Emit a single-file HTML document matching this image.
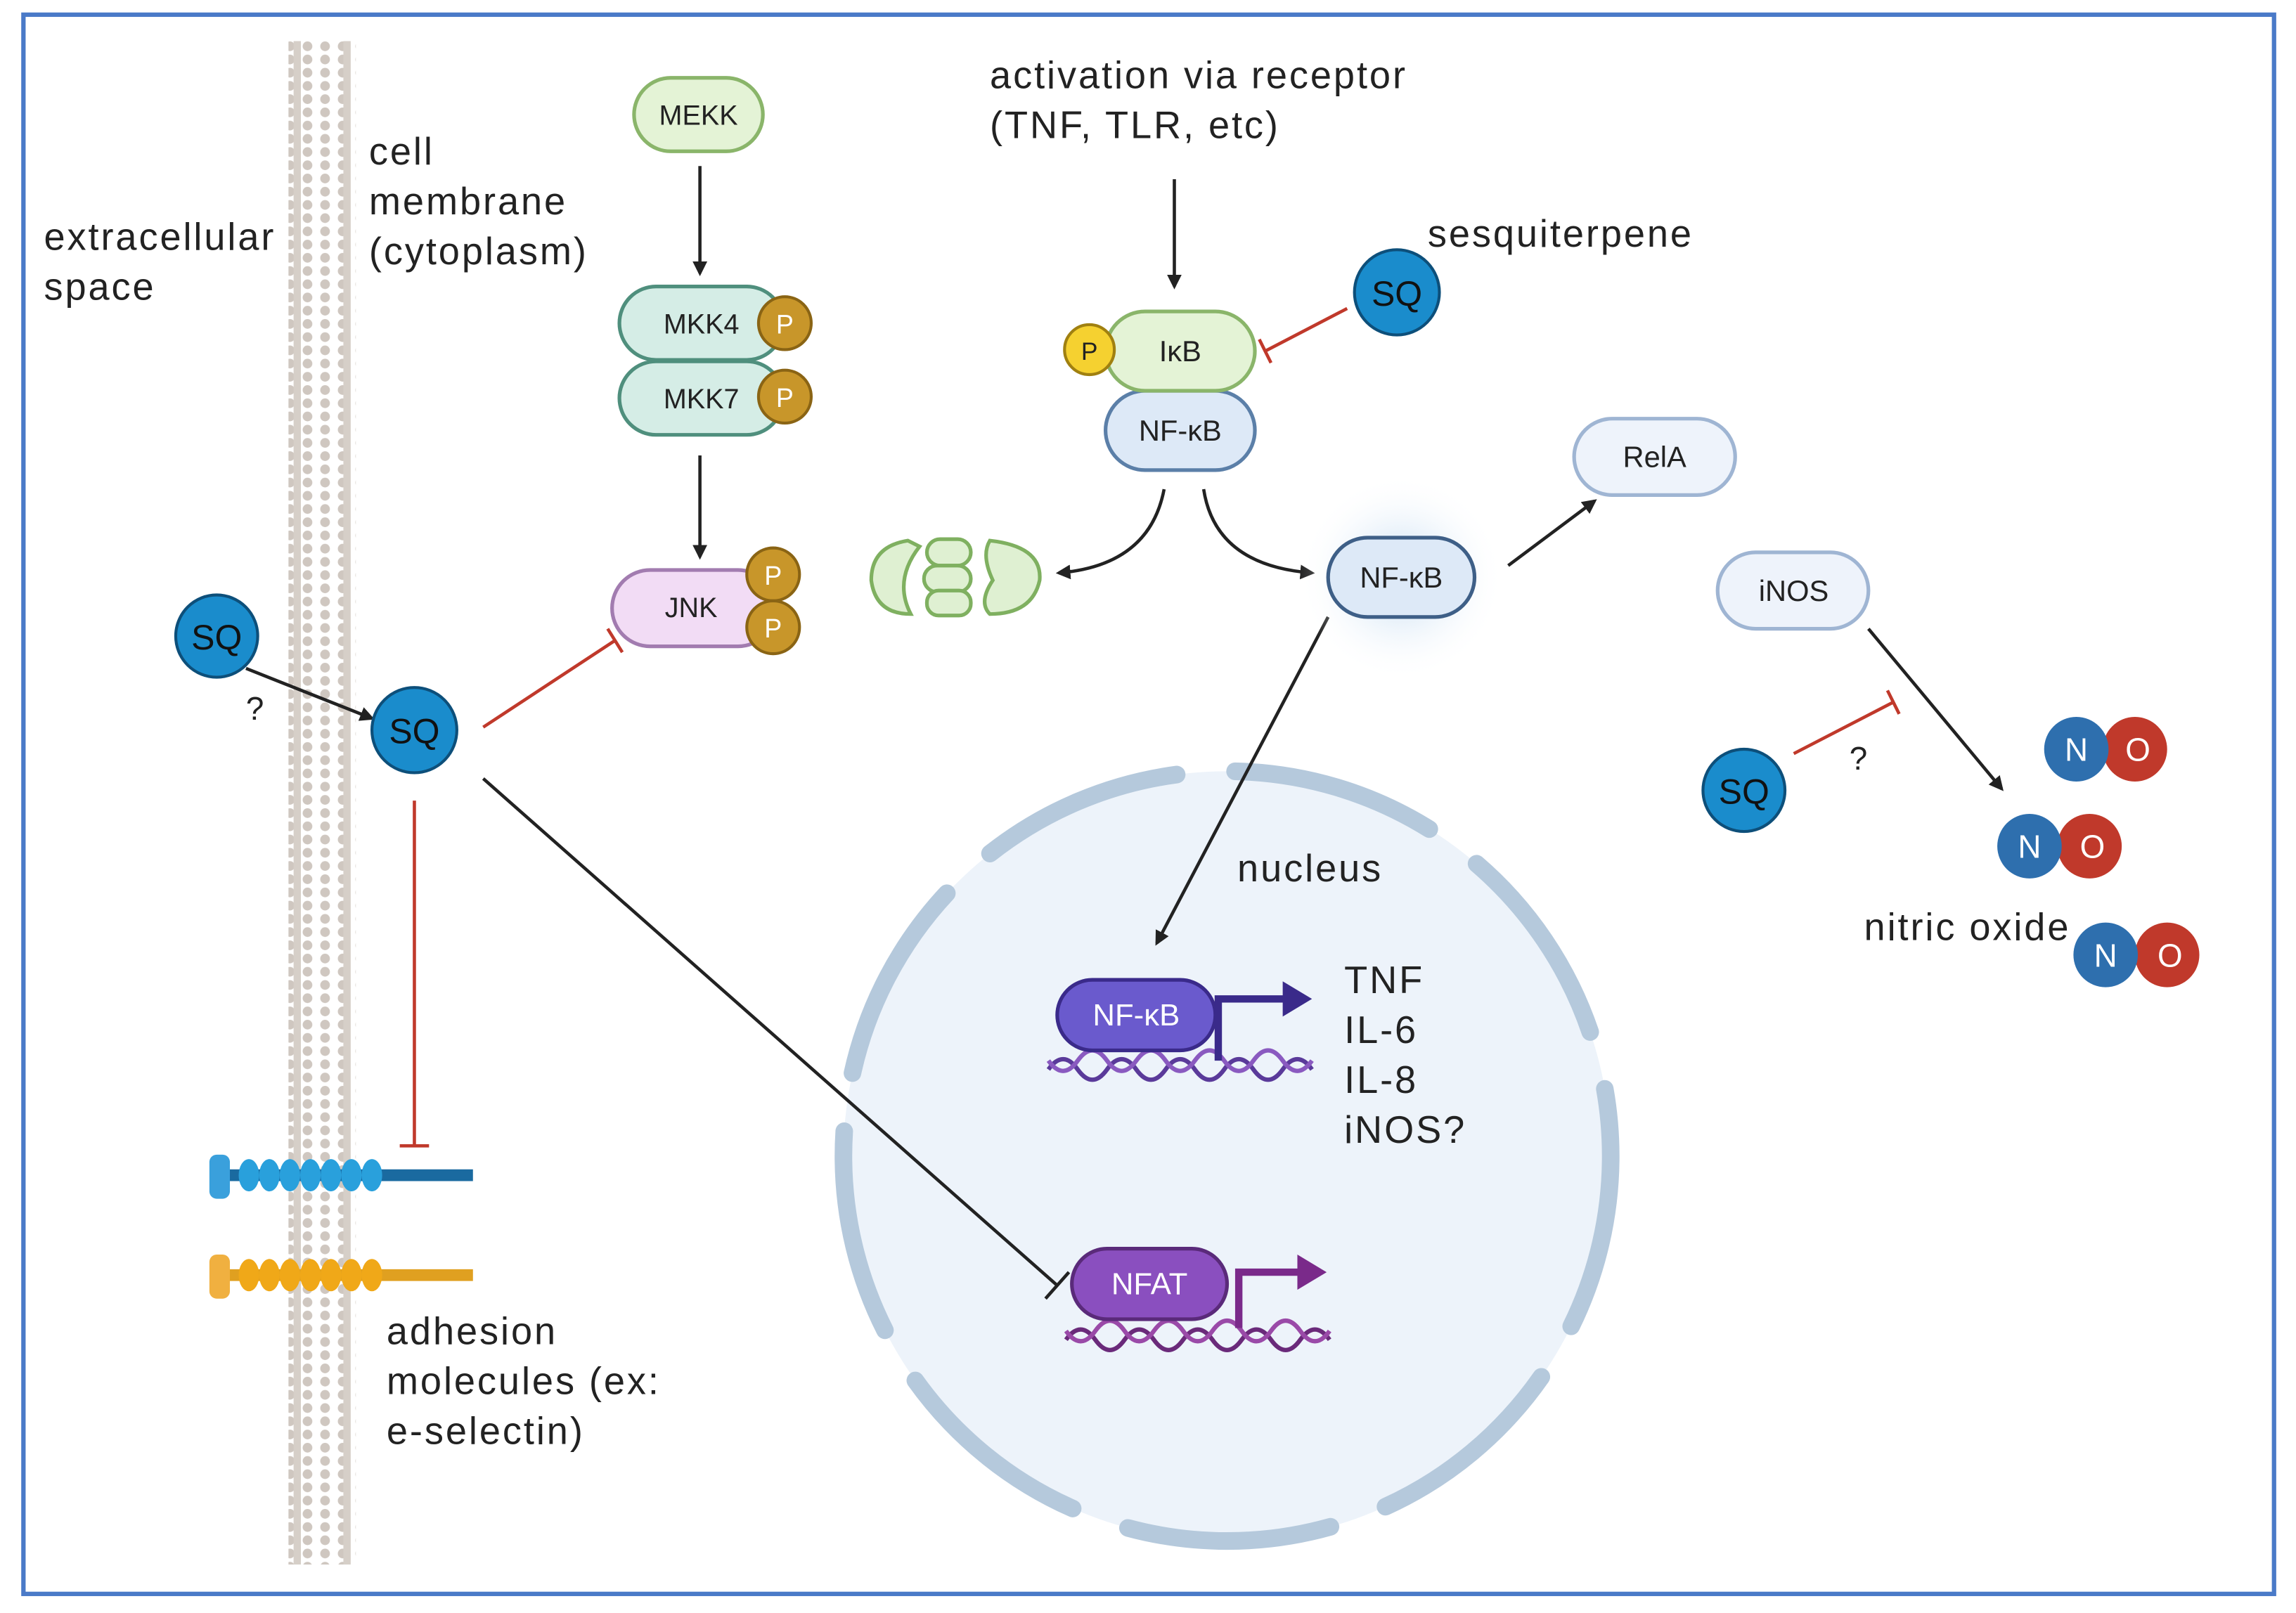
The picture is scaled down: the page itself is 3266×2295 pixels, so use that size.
<!DOCTYPE html>
<html><head><meta charset="utf-8"><style>
html,body{margin:0;padding:0;background:#fff;}
svg{display:block;}
text{font-family:"Liberation Sans",sans-serif;}
</style></head><body>
<svg width="3266" height="2295" viewBox="0 0 1568 1098" preserveAspectRatio="none" xmlns="http://www.w3.org/2000/svg">
<defs>
<marker id="ah" markerWidth="10" markerHeight="10" refX="8" refY="5" orient="auto" markerUnits="userSpaceOnUse"><path d="M0,0 L10,5 L0,10 z" fill="#222"/></marker>
<radialGradient id="glow"><stop offset="0" stop-color="#bcd7f0"/><stop offset="1" stop-color="#fff" stop-opacity="0"/></radialGradient>
<pattern id="mem" width="12" height="9" patternUnits="userSpaceOnUse"><circle cx="6" cy="4.5" r="3.3" fill="#cfc7c0"/></pattern>
</defs>
<rect x="16" y="10" width="1537" height="1075" fill="#fff" stroke="#4a7ac8" stroke-width="3"/>
<!-- membrane -->
<rect x="197" y="28" width="46" height="1037" fill="url(#mem)"/>
<line x1="203" y1="28" x2="203" y2="1065" stroke="#d6cfc8" stroke-width="5"/>
<line x1="237" y1="28" x2="237" y2="1065" stroke="#d6cfc8" stroke-width="5"/>
<!-- nucleus -->
<circle cx="838" cy="787" r="262" fill="#edf3fa"/>
<g fill="none" stroke="#b5c9dc" stroke-width="12" stroke-linecap="round">
<circle cx="838" cy="787" r="262" stroke-dasharray="140 40" stroke-dashoffset="20"/>
</g>
<g font-size="26" fill="#222" letter-spacing="1.4">
<text x="30" y="170">extracellular</text><text x="30" y="204">space</text>
<text x="252" y="112">cell</text><text x="252" y="146">membrane</text><text x="252" y="180">(cytoplasm)</text>
<text x="264" y="915">adhesion</text><text x="264" y="949">molecules (ex:</text><text x="264" y="983">e-selectin)</text>
<text x="676" y="60">activation via receptor</text><text x="676" y="94">(TNF, TLR, etc)</text>
<text x="975" y="168">sesquiterpene</text>
<text x="845" y="600">nucleus</text>
<text x="1273" y="640">nitric oxide</text>
<text x="918" y="676">TNF</text><text x="918" y="710">IL-6</text><text x="918" y="744">IL-8</text><text x="918" y="778">iNOS?</text>
</g>
<!-- MEKK pathway -->
<g font-size="19" fill="#222" text-anchor="middle">
<rect x="433" y="53" width="88" height="50" rx="25" fill="#e4f3d6" stroke="#8ab56a" stroke-width="2.5"/><text x="477" y="85">MEKK</text>
<rect x="423" y="246" width="112" height="50" rx="25" fill="#d5ede6" stroke="#4f8f7d" stroke-width="2.5"/><text x="479" y="278">MKK7</text>
<rect x="423" y="195" width="112" height="50" rx="25" fill="#d5ede6" stroke="#4f8f7d" stroke-width="2.5"/><text x="479" y="227">MKK4</text>
<rect x="418" y="388" width="112" height="52" rx="26" fill="#f2dcf5" stroke="#a27cb0" stroke-width="2.5"/><text x="472" y="420">JNK</text>
</g>
<g font-size="18" fill="#fff" text-anchor="middle">
<circle cx="536" cy="220" r="18" fill="#c8962a" stroke="#8a6414" stroke-width="2"/><text x="536" y="227">P</text>
<circle cx="536" cy="270" r="18" fill="#c8962a" stroke="#8a6414" stroke-width="2"/><text x="536" y="277">P</text>
<circle cx="528" cy="391" r="18" fill="#c8962a" stroke="#8a6414" stroke-width="2"/><text x="528" y="398">P</text>
<circle cx="528" cy="427" r="18" fill="#c8962a" stroke="#8a6414" stroke-width="2"/><text x="528" y="434">P</text>
</g>
<g stroke="#222" stroke-width="2.2" fill="none">
<line x1="478" y1="113" x2="478" y2="186" marker-end="url(#ah)"/>
<line x1="478" y1="310" x2="478" y2="379" marker-end="url(#ah)"/>
<line x1="802" y1="122" x2="802" y2="195" marker-end="url(#ah)"/>
<line x1="168" y1="455" x2="254" y2="489" marker-end="url(#ah)"/>
<path d="M795,333 Q785,385 723,390" marker-end="url(#ah)"/>
<path d="M822,333 Q830,385 896,390" marker-end="url(#ah)"/>
<line x1="1030" y1="385" x2="1089" y2="341" marker-end="url(#ah)"/>
<line x1="1276" y1="428" x2="1367" y2="537" marker-end="url(#ah)"/>
<line x1="907" y1="420" x2="790" y2="642" marker-end="url(#ah)"/>
<line x1="330" y1="530" x2="722" y2="875"/>
<line x1="714" y1="884" x2="730" y2="866"/>
</g>
<g stroke="#c0392b" stroke-width="2.2" fill="none">
<line x1="330" y1="495" x2="420" y2="436"/><line x1="415" y1="428" x2="425" y2="444"/>
<line x1="283" y1="545" x2="283" y2="780"/><line x1="273" y1="780" x2="293" y2="780"/>
<line x1="920" y1="210" x2="864" y2="239"/><line x1="860" y1="231" x2="868" y2="247"/>
<line x1="1225" y1="513" x2="1293" y2="478"/><line x1="1289" y1="470" x2="1297" y2="486"/>
</g>
<g font-size="22" fill="#222"><text x="168" y="490">?</text><text x="1263" y="524">?</text></g>
<!-- SQ -->
<g font-size="24" fill="#111" text-anchor="middle">
<circle cx="148" cy="433" r="28" fill="#1a8ccc" stroke="#0d4f7a" stroke-width="2"/><text x="148" y="442">SQ</text>
<circle cx="283" cy="497" r="29" fill="#1a8ccc" stroke="#0d4f7a" stroke-width="2"/><text x="283" y="506">SQ</text>
<circle cx="954" cy="199" r="29" fill="#1a8ccc" stroke="#0d4f7a" stroke-width="2"/><text x="954" y="208">SQ</text>
<circle cx="1191" cy="538" r="28" fill="#1a8ccc" stroke="#0d4f7a" stroke-width="2"/><text x="1191" y="547">SQ</text>
</g>
<!-- IkB / NFkB -->
<g font-size="20" fill="#222" text-anchor="middle">
<rect x="755" y="266" width="102" height="54" rx="27" fill="#dde9f7" stroke="#5b7fa8" stroke-width="2.5"/><text x="806" y="300">NF-κB</text>
<rect x="755" y="212" width="102" height="54" rx="27" fill="#e4f3d6" stroke="#8ab56a" stroke-width="2.5"/><text x="806" y="246">IκB</text>
<circle cx="744" cy="238" r="17" fill="#f5d130" stroke="#a08010" stroke-width="2"/><text x="744" y="245" font-size="17">P</text>
<circle cx="957" cy="393" r="70" fill="url(#glow)"/>
<rect x="907" y="366" width="100" height="54" rx="27" fill="#dde9f7" stroke="#3e5f87" stroke-width="2.5"/><text x="957" y="400">NF-κB</text>
<rect x="1075" y="285" width="110" height="52" rx="26" fill="#eef3fb" stroke="#9fb5d3" stroke-width="2.5"/><text x="1130" y="318">RelA</text>
<rect x="1173" y="376" width="103" height="52" rx="26" fill="#eef3fb" stroke="#9fb5d3" stroke-width="2.5"/><text x="1225" y="409">iNOS</text>
</g>
<!-- degraded fragments -->
<g fill="#dff0d2" stroke="#7fb060" stroke-width="2.5">
<path d="M620,368 Q595,372 595,395 Q598,418 622,418 Q610,395 628,372 z"/>
<rect x="633" y="367" width="30" height="18" rx="9"/><rect x="631" y="385" width="32" height="18" rx="9"/><rect x="633" y="402" width="30" height="17" rx="8"/>
<path d="M676,368 Q712,372 710,395 Q705,418 676,418 Q668,410 678,395 Q670,378 676,368 z"/>
</g>
<!-- NO molecules -->
<g font-size="22" fill="#fff" text-anchor="middle">
<circle cx="1458" cy="510" r="22" fill="#c0392b"/><circle cx="1418" cy="510" r="22" fill="#2e6fae"/><text x="1418" y="518">N</text><text x="1460" y="518">O</text>
<circle cx="1427" cy="576" r="22" fill="#c0392b"/><circle cx="1386" cy="576" r="22" fill="#2e6fae"/><text x="1386" y="584">N</text><text x="1429" y="584">O</text>
<circle cx="1480" cy="650" r="22" fill="#c0392b"/><circle cx="1438" cy="650" r="22" fill="#2e6fae"/><text x="1438" y="658">N</text><text x="1482" y="658">O</text>
</g>
<!-- DNA + TFs -->
<g fill="none" stroke-width="3">
<path d="M716,728 q10,-14 20,0 t20,0 t20,0 t20,0 t20,0 t20,0 t20,0 t20,0 t20,0" stroke="#5a3a9a"/>
<path d="M716,722 q10,14 20,0 t20,0 t20,0 t20,0 t20,0 t20,0 t20,0 t20,0 t20,0" stroke="#8a5ac0"/>
<path d="M728,912 q10,-14 20,0 t20,0 t20,0 t20,0 t20,0 t20,0 t20,0 t20,0 t20,0" stroke="#6a2a7a"/>
<path d="M728,906 q10,14 20,0 t20,0 t20,0 t20,0 t20,0 t20,0 t20,0 t20,0 t20,0" stroke="#9a4aa8"/>
<path d="M832,722 V680 H880" stroke="#3a2a8a" stroke-width="5"/>
<path d="M846,904 V866 H890" stroke="#7a2a8a" stroke-width="5"/>
</g>
<path d="M876,668 L896,680 L876,692 z" fill="#3a2a8a"/>
<path d="M886,854 L906,866 L886,878 z" fill="#7a2a8a"/>
<g font-size="21" fill="#fff" text-anchor="middle">
<rect x="722" y="667" width="108" height="48" rx="24" fill="#6a5acd" stroke="#3a2a8a" stroke-width="2.5"/><text x="776" y="698">NF-κB</text>
<rect x="732" y="850" width="106" height="48" rx="24" fill="#8a4fbf" stroke="#5a2a7a" stroke-width="2.5"/><text x="785" y="881">NFAT</text>
</g>
<!-- adhesion molecules -->
<g>
<line x1="150" y1="800" x2="323" y2="800" stroke="#1a6aa0" stroke-width="8"/>
<rect x="143" y="786" width="14" height="30" rx="5" fill="#3aa0dc"/>
<g fill="#29a0dc"><ellipse cx="170" cy="800" rx="7" ry="11"/><ellipse cx="184" cy="800" rx="7" ry="11"/><ellipse cx="198" cy="800" rx="7" ry="11"/><ellipse cx="212" cy="800" rx="7" ry="11"/><ellipse cx="226" cy="800" rx="7" ry="11"/><ellipse cx="240" cy="800" rx="7" ry="11"/><ellipse cx="254" cy="800" rx="7" ry="11"/></g>
<line x1="150" y1="868" x2="323" y2="868" stroke="#e0a020" stroke-width="8"/>
<rect x="143" y="854" width="14" height="30" rx="5" fill="#f0b040"/>
<g fill="#f0a818"><ellipse cx="170" cy="868" rx="7" ry="11"/><ellipse cx="184" cy="868" rx="7" ry="11"/><ellipse cx="198" cy="868" rx="7" ry="11"/><ellipse cx="212" cy="868" rx="7" ry="11"/><ellipse cx="226" cy="868" rx="7" ry="11"/><ellipse cx="240" cy="868" rx="7" ry="11"/><ellipse cx="254" cy="868" rx="7" ry="11"/></g>
</g>
</svg>
</body></html>
